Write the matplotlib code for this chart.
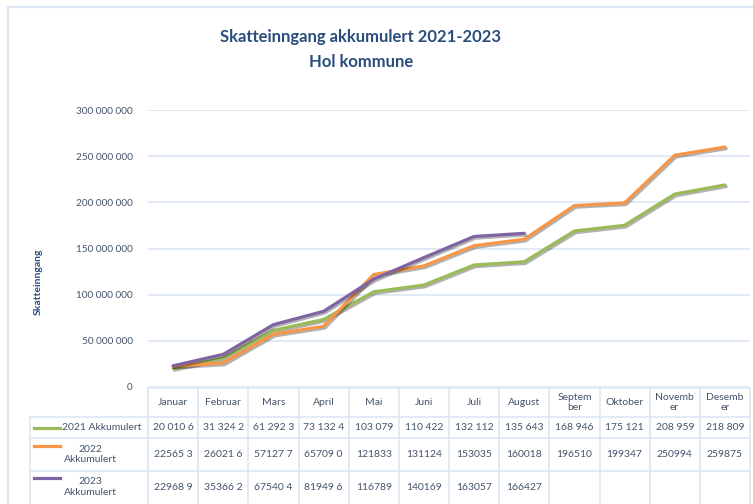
import matplotlib.pyplot as plt
import matplotlib.patheffects as pe
from matplotlib.lines import Line2D
from matplotlib.patches import Rectangle
from matplotlib.ticker import FuncFormatter

# data (akkumulert skatteinngang, kroner)
months = ['Januar', 'Februar', 'Mars', 'April', 'Mai', 'Juni', 'Juli', 'August',
          'Septem\nber', 'Oktober', 'Novemb\ner', 'Desemb\ner']
y2021 = [20010600, 31324200, 61292300, 73132400, 103079000, 110422000,
         132112000, 135643000, 168946000, 175121000, 208959000, 218809000]
y2022 = [22565300, 26021600, 57127700, 65709000, 121833000, 131124000,
         153035000, 160018000, 196510000, 199347000, 250994000, 259875000]
y2023 = [22968900, 35366200, 67540400, 81949600, 116789000, 140169000,
         163057000, 166427000]

# text as shown in the data table
cells2021 = ['20 010 6', '31 324 2', '61 292 3', '73 132 4', '103 079', '110 422',
             '132 112', '135 643', '168 946', '175 121', '208 959', '218 809']
cells2022 = ['22565 3', '26021 6', '57127 7', '65709 0', '121833', '131124',
             '153035', '160018', '196510', '199347', '250994', '259875']
cells2023 = ['22968 9', '35366 2', '67540 4', '81949 6', '116789', '140169',
             '163057', '166427', '', '', '', '']

series = [
    ('2021 Akkumulert', y2021, cells2021, '#9bbb59'),
    ('2022\nAkkumulert', y2022, cells2022, '#f79646'),
    ('2023\nAkkumulert', y2023, cells2023, '#8064a2'),
]

plt.rcParams['font.family'] = ['Lato', 'DejaVu Sans']
W, H = 753, 504
txt_col = '#44546a'
grid_col = '#dce6f4'
title_col = '#2a4d7c'
fs = 7.5

fig = plt.figure(figsize=(W / 100, H / 100), dpi=100)


def fx(p):
    return p / W


def fy(p):
    return 1 - p / H


ax = fig.add_axes([fx(148), fy(387), fx(750) - fx(148), fy(110) - fy(387)])

for name, vals, _, col in series:
    ax.plot(range(len(vals)), vals, color=col, lw=2.3, solid_capstyle='round',
            path_effects=[pe.SimpleLineShadow(offset=(1, -1.2), alpha=0.3),
                          pe.Normal()])

ax.set_xlim(-0.5, 11.5)
ax.set_ylim(0, 300000000)
ax.set_yticks(range(0, 300000001, 50000000))
ax.yaxis.set_major_formatter(FuncFormatter(lambda v, p: f'{int(v):,}'.replace(',', ' ')))
ax.grid(axis='y', color=grid_col, lw=1.2)
ax.set_axisbelow(True)
ax.set_xticks([])
for s in ax.spines.values():
    s.set_visible(False)
ax.tick_params(axis='y', length=0, pad=11, labelsize=7.2, labelcolor=txt_col)

# titles
fig.text(fx(361), fy(37), 'Skatteinngang akkumulert 2021-2023', ha='center', va='center',
         fontsize=12, fontweight='bold', color=title_col)
fig.text(fx(361), fy(62), 'Hol kommune', ha='center', va='center',
         fontsize=12, fontweight='bold', color=title_col)
fig.text(fx(38), fy(282), 'Skatteinngang', rotation=90, ha='center', va='center',
         fontsize=7.5, fontweight='bold', color=title_col)

# chart border
fig.patches.append(Rectangle((fx(8), fy(H + 10)), 1, fy(7) - fy(H + 10),
                             transform=fig.transFigure, fill=False,
                             edgecolor=grid_col, lw=1.5))

# data table
rows = [388, 417, 438, 471, 510]
col_x = [148 + i * (750 - 148) / 12 for i in range(13)]


def hline(y, x0, x1):
    fig.lines.append(Line2D([fx(x0), fx(x1)], [fy(y), fy(y)], transform=fig.transFigure,
                            color=grid_col, lw=1.2))


def vline(x, y0, y1):
    fig.lines.append(Line2D([fx(x), fx(x)], [fy(y0), fy(y1)], transform=fig.transFigure,
                            color=grid_col, lw=1.2))


hline(rows[0], 148, 750)
for y in rows[1:4]:
    hline(y, 30, 750)
for x in col_x:
    vline(x, rows[0], rows[4])
vline(30, rows[1], rows[4])

for i, m in enumerate(months):
    xc = (col_x[i] + col_x[i + 1]) / 2
    fig.text(fx(xc), fy((rows[0] + rows[1]) / 2), m, ha='center', va='center',
             fontsize=fs, color=txt_col, linespacing=1.0)

for r, (name, vals, cells, col) in enumerate(series):
    yc = (rows[r + 1] + rows[r + 2]) / 2
    if r == 2:
        yc = 487
    for i, c in enumerate(cells):
        xc = (col_x[i] + col_x[i + 1]) / 2
        fig.text(fx(xc), fy(yc), c, ha='center', va='center', fontsize=fs, color=txt_col)
    if r == 0:
        fig.lines.append(Line2D([fx(34), fx(60)], [fy(yc), fy(yc)],
                                transform=fig.transFigure, color=col, lw=2.3))
        fig.text(fx(62), fy(yc), name, ha='left', va='center', fontsize=fs, color=txt_col)
    else:
        fig.lines.append(Line2D([fx(34), fx(60)], [fy(yc - 9), fy(yc - 9)],
                                transform=fig.transFigure, color=col, lw=2.3))
        fig.text(fx(90), fy(yc), name, ha='center', va='center', fontsize=fs,
                 color=txt_col, linespacing=1.15)

fig.savefig('out.png', dpi=100)
